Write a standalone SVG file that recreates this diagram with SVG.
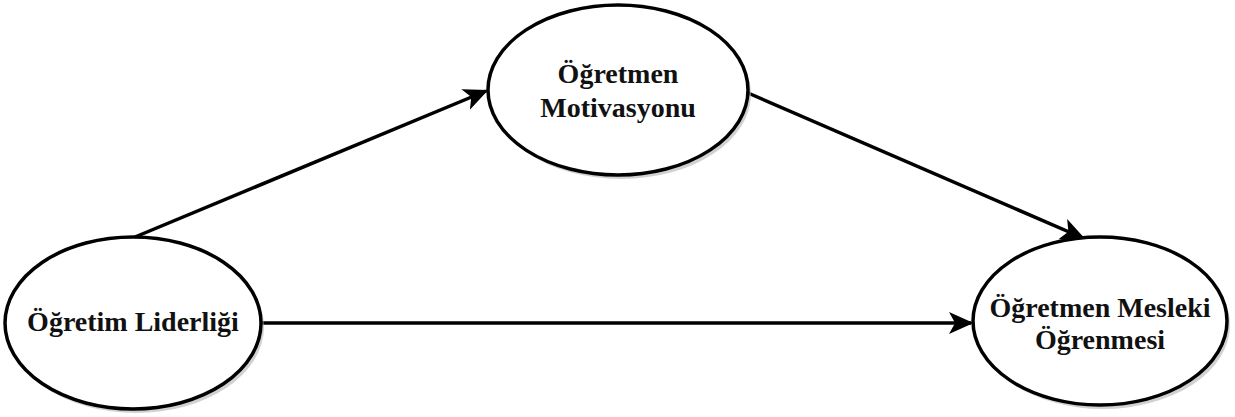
<svg xmlns="http://www.w3.org/2000/svg" width="1235" height="417" viewBox="0 0 1235 417">
<style>
.node ellipse.shape{fill:#fff;stroke:#000;stroke-width:3.5}
.node ellipse.shadow{fill:#b3b3b3;opacity:0.6}
.lbl{font-family:"Liberation Serif","Times New Roman",serif;font-weight:bold;font-size:28px;fill:#111;text-anchor:middle}
.edge{stroke:#000;stroke-width:3.5;fill:none}
</style>
<defs>
<marker id="arr" viewBox="0 0 20 20" refX="18" refY="10" markerWidth="7" markerHeight="7" orient="auto" markerUnits="strokeWidth">
<path d="M0,1 L20,10 L0,19 L5,10 Z" fill="#000"/>
</marker>
</defs>
<rect width="1235" height="417" fill="#fff"/>
<g id="connectors">
<line class="edge" x1="135" y1="237" x2="486" y2="91" marker-end="url(#arr)"/>
<line class="edge" x1="748" y1="93" x2="1083" y2="238" marker-end="url(#arr)"/>
<line class="edge" x1="261" y1="323" x2="971" y2="323" marker-end="url(#arr)"/>
</g>
<g id="node-motivasyon" class="node">
<ellipse class="shadow" cx="621" cy="94" rx="130" ry="85"/>
<ellipse class="shape" cx="618" cy="90" rx="130" ry="85"/>
<text class="lbl" x="618" y="83">Öğretmen</text>
<text class="lbl" x="618" y="117">Motivasyonu</text>
</g>
<g id="node-liderlik" class="node">
<ellipse class="shadow" cx="136" cy="327" rx="128" ry="86"/>
<ellipse class="shape" cx="133" cy="323" rx="128" ry="86"/>
<text class="lbl" x="133" y="331">Öğretim Liderliği</text>
</g>
<g id="node-ogrenme" class="node">
<ellipse class="shadow" cx="1103" cy="325" rx="127" ry="84"/>
<ellipse class="shape" cx="1100" cy="321" rx="127" ry="84"/>
<text class="lbl" x="1100" y="317">Öğretmen Mesleki</text>
<text class="lbl" x="1100" y="349">Öğrenmesi</text>
</g>
</svg>
